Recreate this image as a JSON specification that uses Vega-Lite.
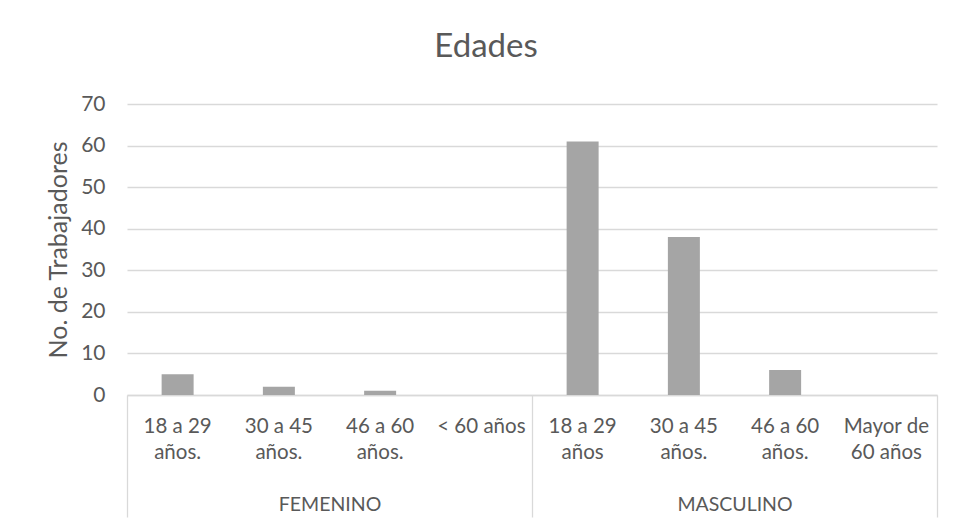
{
  "$schema": "https://vega.github.io/schema/vega-lite/v6.json",
  "width": 810,
  "height": 291,
  "autosize": {"type": "none"},
  "padding": {"left": 127, "top": 104, "right": 23, "bottom": 134},
  "background": "white",
  "title": {
    "text": "Edades",
    "font": "Lato",
    "fontSize": 33,
    "fontWeight": "normal",
    "color": "#595959",
    "anchor": "middle",
    "baseline": "alphabetic",
    "dx": -46,
    "offset": 3
  },
  "data": {
    "values": [
      {"sexo": "FEMENINO", "clave": "FEMENINO|18 a 29\naños.", "trabajadores": 5},
      {"sexo": "FEMENINO", "clave": "FEMENINO|30 a 45\naños.", "trabajadores": 2},
      {"sexo": "FEMENINO", "clave": "FEMENINO|46 a 60\naños.", "trabajadores": 1},
      {"sexo": "FEMENINO", "clave": "FEMENINO|< 60 años", "trabajadores": 0},
      {"sexo": "MASCULINO", "clave": "MASCULINO|18 a 29\naños", "trabajadores": 61},
      {"sexo": "MASCULINO", "clave": "MASCULINO|30 a 45\naños.", "trabajadores": 38},
      {"sexo": "MASCULINO", "clave": "MASCULINO|46 a 60\naños.", "trabajadores": 6},
      {"sexo": "MASCULINO", "clave": "MASCULINO|Mayor de\n60 años", "trabajadores": 0}
    ]
  },
  "layer": [
    {
      "mark": {"type": "bar", "color": "#a5a5a5"},
      "encoding": {
        "x": {
          "field": "clave",
          "type": "nominal",
          "sort": null,
          "scale": {"paddingInner": 0.684, "paddingOuter": 0.342},
          "axis": {
            "orient": "bottom",
            "title": null,
            "ticks": false,
            "domain": true,
            "domainColor": "#d9d9d9",
            "domainWidth": 1.3,
            "labelAngle": 0,
            "labelExpr": "split(split(datum.value, '|')[1], '\\n')",
            "labelFont": "Lato",
            "labelFontSize": 20.5,
            "labelLineHeight": 26,
            "labelColor": "#595959",
            "labelPadding": 21,
            "labelOverlap": false,
            "labelBound": false
          }
        },
        "y": {
          "field": "trabajadores",
          "type": "quantitative",
          "scale": {"domain": [0, 70]},
          "axis": {
            "values": [0, 10, 20, 30, 40, 50, 60, 70],
            "title": "No. de Trabajadores",
            "titleFont": "Lato",
            "titleFontSize": 25,
            "titleFontWeight": "normal",
            "titleColor": "#595959",
            "titlePadding": 9,
            "domain": false,
            "ticks": false,
            "grid": true,
            "gridColor": "#d9d9d9",
            "gridWidth": 1.3,
            "labelFont": "Lato",
            "labelFontSize": 21,
            "labelColor": "#595959",
            "labelPadding": 22
          }
        }
      }
    },
    {
      "mark": {"type": "point", "opacity": 0},
      "encoding": {
        "x": {
          "field": "sexo",
          "type": "nominal",
          "sort": null,
          "scale": {"type": "band", "paddingInner": 0, "paddingOuter": 0},
          "axis": {
            "orient": "bottom",
            "title": null,
            "domain": false,
            "ticks": true,
            "tickBand": "extent",
            "tickSize": 122,
            "tickColor": "#d9d9d9",
            "tickWidth": 1.3,
            "labelAngle": 0,
            "labelFont": "Lato",
            "labelFontSize": 19.5,
            "labelColor": "#595959",
            "labelPadding": -22,
            "labelBaseline": "top"
          }
        }
      }
    }
  ],
  "resolve": {"scale": {"x": "independent"}, "axis": {"x": "independent"}},
  "config": {"view": {"stroke": null}, "font": "Lato"}
}
